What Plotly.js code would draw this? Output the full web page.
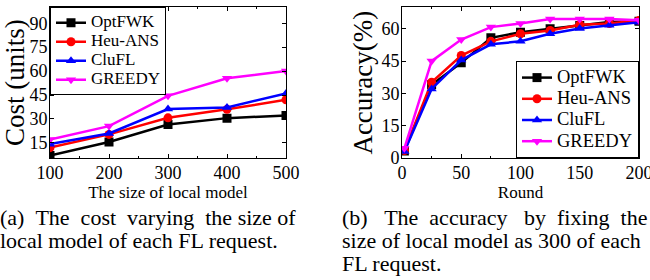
<!DOCTYPE html>
<html><head><meta charset="utf-8">
<script src="https://cdn.plot.ly/plotly-3.0.1.min.js"></script>
<style>html,body{margin:0;padding:0;background:#fff}#chart{width:650px;height:280px}</style>
</head><body><div id="chart"></div>
<script>
const seriesNames = ["OptFWK", "Heu-ANS", "CluFL", "GREEDY"];
const modelSizes = [100, 200, 300, 400, 500];
const costOptFWK = [7, 15.5, 26.5, 30.5, 32.2];
const costHeuANS = [12, 20.3, 30.7, 36, 42];
const costCluFL = [14.2, 20.9, 36.2, 37.2, 46];
const costGreedy = [17.1, 25.5, 44.5, 55.5, 60];
const rounds = [2, 25, 50, 75, 100, 125, 150, 175, 200];
const accOptFWK = [3.2, 34, 44.2, 55.8, 58.4, 60, 61.6, 63.2, 63.5];
const accHeuANS = [3.5, 35.2, 47.6, 54.2, 57.7, 59.2, 61.9, 62.5, 63.9];
const accCluFL = [3, 32.1, 45.5, 52.8, 54.2, 57.7, 60.1, 61.7, 63.1];
const accGreedy = [4.5, 45, 55, 60.8, 62.5, 64.6, 64.6, 64.6, 64];
const S = "\u00a0";
const captionA = ["(a)" + S + S + "The" + S + S + "cost" + S + S + "varying" + S + S + "the" + S + "size" + S + "of", "local model of each FL request."];
const captionB = ["(b)" + S + S + S + "The" + S + S + "accuracy" + S + S + S + "by" + S + S + "fixing" + S + S + "the", "size of local model as 300 of each", "FL request."];

const colors = ["#000000", "#ff0000", "#0000ff", "#ff00ff"];
const symbols = ["square", "circle", "triangle-up", "triangle-down"];
const costData = [costOptFWK, costHeuANS, costCluFL, costGreedy];
const accData = [accOptFWK, accHeuANS, accCluFL, accGreedy];
const FONT = "'Liberation Serif', 'Times New Roman', serif";

const traces = [];
seriesNames.forEach((n, i) => {
  traces.push({x: modelSizes, y: costData[i], name: '<span style="font-size:17px">' + n + '</span>', type: "scatter", mode: "lines+markers",
    xaxis: "x", yaxis: "y", legend: "legend",
    line: {color: colors[i], width: 2.5}, marker: {symbol: symbols[i], size: 9, color: colors[i]}});
});
seriesNames.forEach((n, i) => {
  traces.push({x: rounds, y: accData[i], name: '<span style="font-size:18.5px">' + n + '</span>', type: "scatter", mode: "lines+markers",
    xaxis: "x2", yaxis: "y2", legend: "legend2",
    line: {color: colors[i], width: 2.5}, marker: {symbol: symbols[i], size: 9, color: colors[i]}});
});

const axBase = {showline: true, linecolor: "#000", linewidth: 1, mirror: "ticks", ticks: "inside",
  ticklen: 4, tickcolor: "#000", showgrid: false, zeroline: false, fixedrange: true, ticklabeloverflow: "allow",
  ticklabelstandoff: -2, tickfont: {family: FONT, size: 18, color: "#000"}};

const annotations = [];
const capY = [217.5, 240.5, 263.5];
captionA.forEach((t, i) => annotations.push({text: t, xref: "paper", yref: "paper", x: -2 / 650, y: (280 - capY[i]) / 280,
  xanchor: "left", yanchor: "middle", showarrow: false, font: {family: FONT, size: 22, color: "#000"}}));
captionB.forEach((t, i) => annotations.push({text: t, xref: "paper", yref: "paper", x: 340 / 650, y: (280 - capY[i]) / 280,
  xanchor: "left", yanchor: "middle", showarrow: false, font: {family: FONT, size: 22, color: "#000"}}));

const yTop = (280 - 7.3) / 280, yBot = (280 - 158) / 280;
const layout = {
  width: 650, height: 280, margin: {l: 0, r: 0, t: 0, b: 0},
  font: {family: FONT, color: "#000"},
  paper_bgcolor: "#fff", plot_bgcolor: "#fff", showlegend: true,
  xaxis: Object.assign({}, axBase, {domain: [50 / 650, 286 / 650], anchor: "y", range: [100, 500],
    tickvals: [100, 200, 300, 400, 500],
    minor: {tickvals: [150, 250, 350, 450], ticks: "inside", ticklen: 2, tickcolor: "#000", showgrid: false},
    title: {text: "The size of local model", font: {family: FONT, size: 17, color: "#000"}, standoff: 0}}),
  yaxis: Object.assign({}, axBase, {domain: [yBot, yTop], anchor: "x", range: [5.5, 100],
    tickvals: [15, 30, 45, 60, 75, 90],
    title: {text: "Cost (units)", font: {family: FONT, size: 27, color: "#000"}, standoff: 0}}),
  xaxis2: Object.assign({}, axBase, {domain: [402 / 650, 639 / 650], anchor: "y2", range: [0, 200],
    tickvals: [0, 50, 100, 150, 200],
    minor: {tickvals: [25, 75, 125, 175], ticks: "inside", ticklen: 2, tickcolor: "#000", showgrid: false},
    title: {text: "Round", font: {family: FONT, size: 17, color: "#000"}, standoff: 0}}),
  yaxis2: Object.assign({}, axBase, {domain: [yBot, yTop], anchor: "x2", range: [0, 70],
    tickvals: [0, 15, 30, 45, 60],
    title: {text: "Accuracy(%)", font: {family: FONT, size: 27, color: "#000"}, standoff: 0}}),
  legend: {x: 50 / 650, y: yTop, xanchor: "left", yanchor: "top", bgcolor: "#fff", bordercolor: "#000", borderwidth: 1,
    font: {family: FONT, size: 11.5, color: "#000"}, tracegroupgap: 0, itemwidth: 30},
  legend2: {x: 639 / 650, y: yBot, xanchor: "right", yanchor: "bottom", bgcolor: "#fff", bordercolor: "#000", borderwidth: 1,
    font: {family: FONT, size: 14, color: "#000"}, tracegroupgap: 0, itemwidth: 30},
  annotations: annotations
};
Plotly.newPlot("chart", traces, layout, {displayModeBar: false, staticPlot: true});
</script></body></html>
